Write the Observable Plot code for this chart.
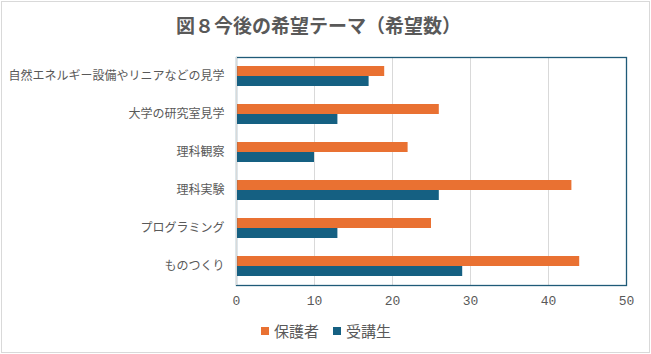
<!DOCTYPE html>
<html>
<head>
<meta charset="utf-8">
<script src="https://cdn.jsdelivr.net/npm/d3@7"></script>
<script src="https://cdn.jsdelivr.net/npm/@observablehq/plot@0.6"></script>
<style>
  html, body { margin: 0; padding: 0; background: #fff; }
  #wrap { position: relative; width: 651px; height: 354px; overflow: hidden; font-family: "Noto Sans CJK JP", "Noto Sans", sans-serif; color: #595959; }
  #border { position: absolute; left: 1px; top: 1px; width: 647px; height: 350px; border: 1px solid #d9d9d9; }
  #title { position: absolute; left: 0; top: 12px; width: 651px; text-align: center; font-size: 19px; font-weight: bold; color: #595959; padding-right: 14px; box-sizing: border-box; line-height: 26px; }
  #plot { position: absolute; left: 0; top: 40px; }
  #legend { position: absolute; top: 320px; left: 261px; font-size: 15px; line-height: 22px; display: flex; align-items: center; }
  .sw { display: inline-block; width: 8px; height: 8px; margin-right: 5px; }
  .item { display: flex; align-items: center; margin-right: 14px; }
</style>
</head>
<body>
<div id="wrap">
  <div id="border"></div>
  <div id="title">図８今後の希望テーマ（希望数）</div>
  <div id="plot"></div>
  <div id="legend"></div>
</div>
<script>
const categories = ["自然エネルギー設備やリニアなどの見学", "大学の研究室見学", "理科観察", "理科実験", "プログラミング", "ものつくり"];
const guardians = [19, 26, 22, 43, 25, 44];
const students = [17, 13, 10, 26, 13, 29];
const xTicks = [0, 10, 20, 30, 40, 50];
const seriesNames = ["保護者", "受講生"];
const seriesColors = ["#E97132", "#156082"];

const gData = categories.map((c, i) => ({category: c, value: guardians[i]}));
const sData = categories.map((c, i) => ({category: c, value: students[i]}));

const chart = Plot.plot({
  width: 651,
  height: 280,
  marginLeft: 236,
  marginRight: 25,
  marginTop: 17,
  marginBottom: 35,
  style: {fontSize: "12px", color: "#595959", fontFamily: "'Noto Sans CJK JP', sans-serif", background: "transparent"},
  x: {domain: [0, 50]},
  y: {domain: categories, paddingInner: 0.47, paddingOuter: 0.235},
  marks: [
    Plot.gridX(xTicks, {stroke: "#d9d9d9", strokeOpacity: 1}),
    Plot.barX(gData, {x: "value", y: "category", fill: seriesColors[0], insetBottom: 10}),
    Plot.barX(sData, {x: "value", y: "category", fill: seriesColors[1], insetTop: 10}),
    Plot.frame({stroke: "#1f5b78", strokeWidth: 1.3}),
    Plot.ruleX([0], {stroke: "#d9d9d9"}),
    Plot.axisX(xTicks, {tickSize: 0, tickPadding: 10, label: null, fontFamily: "'Liberation Mono', monospace", fontSize: 13}),
    Plot.axisY({tickSize: 0, tickPadding: 12, label: null})
  ]
});
document.getElementById("plot").appendChild(chart);

const legend = document.getElementById("legend");
seriesNames.forEach((name, i) => {
  const item = document.createElement("span");
  item.className = "item";
  const sw = document.createElement("span");
  sw.className = "sw";
  sw.style.background = seriesColors[i];
  item.appendChild(sw);
  item.appendChild(document.createTextNode(name));
  legend.appendChild(item);
});
</script>
</body>
</html>
